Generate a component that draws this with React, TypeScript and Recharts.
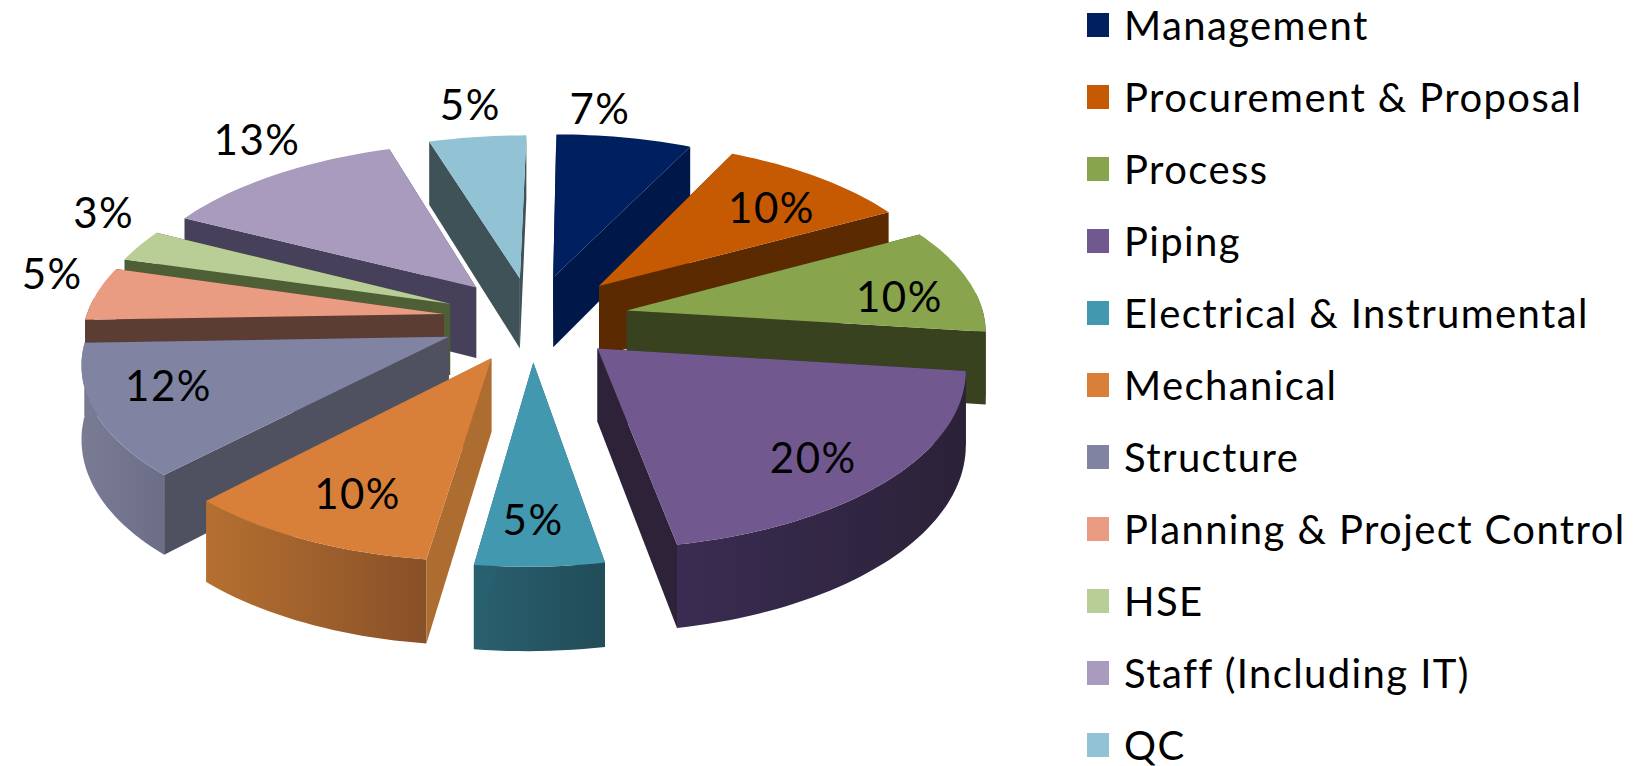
import React from 'react';
import { PieChart, Pie, Cell, Legend } from 'recharts';

const departments = [
    'Management', 'Procurement & Proposal', 'Process', 'Piping', 'Electrical & Instrumental', 'Mechanical',
    'Structure', 'Planning & Project Control', 'HSE', 'Staff (Including IT)', 'QC'
];
// labels are rounded, structure and staff sit a little either side of their printed value
const shares = [7, 10, 10, 20, 5, 10, 12.45, 5, 3, 12.55, 5];

const topColors = ['#001F5F', '#C55A03', '#88A44C', '#71588F', '#4198AF', '#D8803A', '#8084A2', '#E99C82', '#B9CD96', '#A99BBD', '#92C3D4'];
const edgeColors = ['#00174A', '#5B2A00', '#38421F', '#2D2238', '#28606F', '#AE6D30', '#4F5060', '#5C3D33', '#4E5F36', '#46405A', '#3F5258'];
const rimFrom = ['#00174A', '#5B2A00', '#38421F', '#3A2C52', '#2A6070', '#B57030', '#7A7C96', '#5C3D33', '#4E5F36', '#46405A', '#3F5258'];
const rimTo = ['#00174A', '#5B2A00', '#38421F', '#2B2238', '#214C58', '#885028', '#6C6E88', '#5C3D33', '#4E5F36', '#46405A', '#3F5258'];

// how far each slice is pulled out of the pie, in radii
const explode = [0.26, 0.275, 0.27, 0.25, 0.25, 0.25, 0.25, 0.25, 0.25, 0.25, 0.25];

// how far out each label sits (in radii) and how far it is turned off the slice's middle
const labelReach = [1.228, 0.763, 0.8, 0.793, 0.788, 0.759, 0.785, 1.168, 1.226, 1.262, 1.263];
const labelTurn = [-5.9, 2.1, 4.3, 3.2, 0.9, -0.9, 4.1, 5.3, 7.6, 4.9, 0.4];

// walls are painted back to front
const wallOrder = [10, 9, 8, 7, 6, 0, 1, 2, 3, 4, 5];

const tableData = departments.map((name, i) => ({ name, value: shares[i] }));

const FONT = 'Lato, sans-serif';
const TILT = 0.472;
const PERSPECTIVE = 0.118;
const SKEW = 0.017;
const DEPTH = 72;
const CX = 532;
const CY = 319;
const RADIUS = 358;

const rad = (deg: number) => (deg * Math.PI) / 180;

// ground plane (in radii, y pointing away) to screen
const project = (cx: number, cy: number, r: number, X: number, Y: number, drop = 0) => {
    const f = 1 + PERSPECTIVE * Y;
    return [cx + (r * (X + SKEW * Y)) / f, cy - (TILT * r * Y) / f + drop / f];
};

const toPath = (pts: number[][]) => 'M' + pts.map((p) => `${p[0].toFixed(1)},${p[1].toFixed(1)}`).join('L') + 'Z';

const sliceGeometry = (props: any) => {
    const { cx, cy, outerRadius: r, startAngle, endAngle, name } = props;
    // recharts angles run counter-clockwise from 3 o'clock
    const from = 90 - startAngle;
    const to = 90 - endAngle;
    const mid = (from + to) / 2;
    const pull = explode[departments.indexOf(name)];
    const ox = pull * Math.sin(rad(mid));
    const oy = pull * Math.cos(rad(mid));
    const rimAt = (a: number, drop = 0) =>
        project(cx, cy, r, ox + Math.sin(rad(a)), oy + Math.cos(rad(a)), drop);
    const apex = (drop = 0) => project(cx, cy, r, ox, oy, drop);
    const steps: number[] = [];
    for (let a = from; a < to; a += 1.5) steps.push(a);
    steps.push(to);
    return { from, to, mid, rimAt, apex, steps };
};

const TopFace = (props: any) => {
    const { rimAt, apex, steps } = sliceGeometry(props);
    return <path d={toPath([apex(), ...steps.map((a) => rimAt(a))])} fill={props.fill} />;
};

const makeWalls = (only: number) => (props: any) => {
    const i = departments.indexOf(props.name);
    if (i !== only) return <g />;
    const { from, to, mid, rimAt, apex, steps } = sliceGeometry(props);
    const edge = (a: number) => (
        <path d={toPath([apex(), rimAt(a), rimAt(a, DEPTH), apex(DEPTH)])} fill={edgeColors[i]} />
    );
    const front = steps.filter((a) => Math.cos(rad(a)) < 0.12);
    const rim = front.length > 1 && (
        <path
            d={toPath([...front.map((a) => rimAt(a)), ...front.slice().reverse().map((a) => rimAt(a, DEPTH))])}
            fill={`url(#rim-${i})`}
        />
    );
    return mid < 180 ? (
        <g>{edge(from)}{rim}{edge(to)}</g>
    ) : (
        <g>{edge(to)}{rim}{edge(from)}</g>
    );
};

const renderPercent = (props: any) => {
    const { cx, cy, outerRadius: r, midAngle, percent, index } = props;
    const mid = 90 - midAngle;
    const a = mid + labelTurn[index];
    const X = 0.25 * Math.sin(rad(mid)) + labelReach[index] * Math.sin(rad(a));
    const Y = 0.25 * Math.cos(rad(mid)) + labelReach[index] * Math.cos(rad(a));
    const [x, y] = project(cx, cy, r, X, Y);
    return (
        <text x={x} y={y} fill="#000" fontFamily={FONT} fontSize={42} letterSpacing={1.5} textAnchor="middle" dominantBaseline="central">
            {`${Math.round(percent * 100)}%`}
        </text>
    );
};

const renderLegend = ({ payload }: any) => (
    <div style={{ fontFamily: FONT, fontSize: 40, letterSpacing: 1.4, color: '#000', lineHeight: '72px' }}>
        {(payload || []).filter((entry: any) => entry.type !== 'none').map((entry: any) => (
            <div key={entry.value} style={{ display: 'flex', alignItems: 'center', height: 72, whiteSpace: 'nowrap' }}>
                <span style={{ width: 22, height: 24, background: entry.color, marginRight: 15, flex: 'none' }} />
                <span>{entry.value}</span>
            </div>
        ))}
    </div>
);

export default function App() {
    return (
        <div style={{ position: 'absolute', left: 0, top: 0 }}>
            <PieChart width={1639} height={766} margin={{ top: 0, right: 0, bottom: 0, left: 0 }}>
                <defs>
                    {departments.map((_, i) => (
                        <linearGradient key={i} id={`rim-${i}`} x1="0" y1="0" x2="1" y2="0">
                            <stop offset="0%" stopColor={rimFrom[i]} />
                            <stop offset="100%" stopColor={rimTo[i]} />
                        </linearGradient>
                    ))}
                </defs>
                {wallOrder.map((only) => (
                    <Pie key={only} data={tableData} dataKey="value" nameKey="name" cx={CX} cy={CY} outerRadius={RADIUS} startAngle={90} endAngle={-270}
                        stroke="none" legendType="none" isAnimationActive={false} shape={makeWalls(only)} />
                ))}
                <Pie data={tableData} dataKey="value" nameKey="name" cx={CX} cy={CY} outerRadius={RADIUS} startAngle={90} endAngle={-270}
                    stroke="none" isAnimationActive={false} shape={TopFace} label={renderPercent} labelLine={false}>
                    {departments.map((name, i) => <Cell key={name} fill={topColors[i]} />)}
                </Pie>
                <Legend layout="vertical" align="right" verticalAlign="top" content={renderLegend} itemSorter={null}
                    wrapperStyle={{ left: 1087, top: -11, width: 552 }} />
            </PieChart>
        </div>
    );
}
